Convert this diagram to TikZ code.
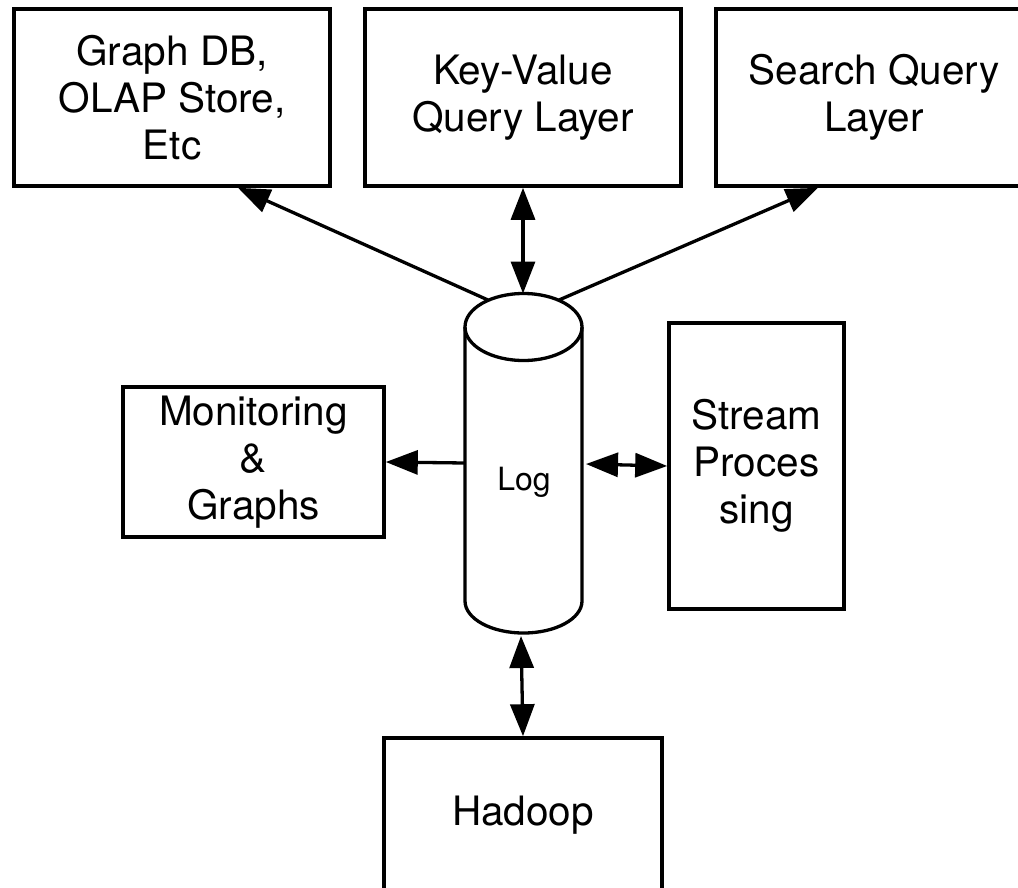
\documentclass[tikz,border=0pt]{standalone}
\usepackage{fontspec}
\setmainfont{TeX Gyre Heros}
\usetikzlibrary{arrows.meta}
\begin{document}
\begin{tikzpicture}[x=1pt,y=-1pt,
  box/.style={draw, line width=3.6pt, align=center, inner sep=0pt,
    font=\fontsize{40.5}{47}\selectfont},
  link/.style={line width=3.3pt, -{Triangle[length=32pt,width=24pt]}},
  duplex/.style={line width=3.3pt,
    {Triangle[length=32pt,width=24pt]}-{Triangle[length=32pt,width=24pt]}},
  drum/.style={line width=3.3pt},
]
\fill[white] (0,0) rectangle (1018,887);
\useasboundingbox (0,0) rectangle (1018,887);
\clip (0,0) rectangle (1018,887);

% serving layers along the top
\node[box, minimum width=316pt, minimum height=177pt] (gdb) at (172,97.5)
  {Graph DB,\\OLAP Store,\\Etc};
\node[box, minimum width=316pt, minimum height=177pt] (kv) at (523,97.5)
  {Key-Value\\Query Layer};
\node[box, minimum width=316pt, minimum height=177pt] (search) at (874,97.5)
  {Search Query\\Layer};

% side consumers
\node[box, minimum width=261pt, minimum height=150pt] (mon) at (253.5,462)
  {Monitoring\\\&\\Graphs};
\node[box, minimum width=175pt, minimum height=286pt] (stream) at (756.5,466)
  {Stream\\Proces\\sing};

% batch layer at the bottom
\node[box, minimum width=278pt, minimum height=154pt] (hadoop) at (523,815)
  {Hadoop};

% the log drawn as a cylinder
\draw[drum] (523.5,327) ellipse [x radius=58.5pt, y radius=33.5pt];
\draw[drum] (465,327) -- (465,601)
  arc[start angle=180, end angle=360, x radius=58.5pt, y radius=32pt]
  -- (582,327);
\node[inner sep=0pt, font=\fontsize{32}{38}\selectfont] (log) at (524,482) {Log};

% attachment points on the cylinder
\coordinate (logNW) at (488,300);
\coordinate (logNE) at (559,300);
\coordinate (logN) at (523,293.5);
\coordinate (logW) at (465,463);
\coordinate (logE) at (586,464);
\coordinate (logS) at (521,636);

% connectors
\draw[link] (logNW) -- ([xshift=66pt]gdb.south);
\draw[link] (logNE) -- ([xshift=-56pt]search.south);
\draw[duplex] (logN) -- (kv.south);
\draw[link] (logW) -- (mon.east);
\draw[duplex] (logE) -- (stream.west);
\draw[duplex] (logS) -- (hadoop.north);
\end{tikzpicture}
\end{document}
